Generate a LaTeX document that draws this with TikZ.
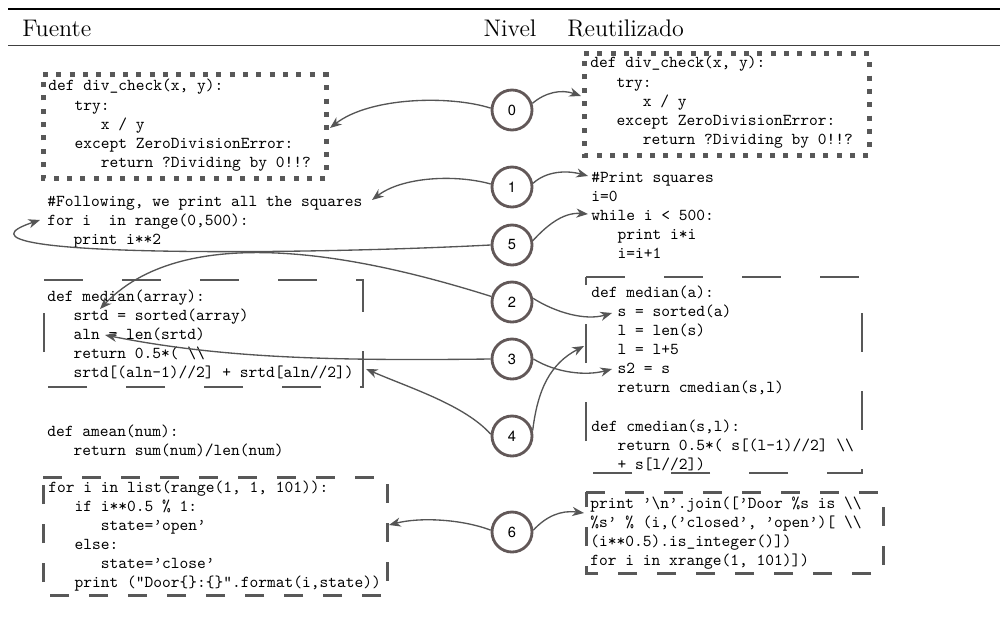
\documentclass[tikz,border=0pt]{standalone}
\usepackage{fontspec}
\newfontfamily\numfont{TeX Gyre Heros}
\usetikzlibrary{arrows.meta}

\definecolor{boxgray}{RGB}{88,88,88}
\definecolor{ringgray}{RGB}{98,88,88}
\definecolor{linkgray}{RGB}{85,85,85}

\newcommand\codefont{\fontsize{10}{11.5}\selectfont\ttfamily}
\newcommand\ti{\hspace*{15.75pt}}
\newcommand\bsl{\textbackslash}
\newcommand\cb[1]{\begin{tabular}[t]{@{}l@{}}#1\end{tabular}}

\begin{document}
\begin{tikzpicture}[x=0.6pt,y=-0.6pt,
  code/.style={anchor=base west, inner sep=0pt, font=\codefont},
  head/.style={inner sep=0pt, font=\fontsize{14.4}{17}\selectfont},
  ring/.style={circle, draw=ringgray, line width=1.7pt, minimum size=24pt,
    inner sep=0pt, font=\numfont\fontsize{8.8}{8.8}\selectfont},
  dotbox/.style={draw=boxgray, line width=3pt, dash pattern=on 3pt off 5pt},
  longdash/.style={draw=boxgray, line width=1.7pt, dash pattern=on 23.4pt off 23.4pt},
  shortdash/.style={draw=boxgray, line width=1.8pt, dash pattern=on 11.4pt off 12pt},
  link/.style={draw=linkgray, line width=0.8pt,
    -{Stealth[length=7pt,width=5.5pt,inset=2.2pt]}}]
\useasboundingbox (0,0) rectangle (1000,617);

% table header
\draw[line width=0.8pt] (8,9) -- (1000,9);
\draw[line width=0.6pt, black!75] (8,46) -- (1000,46);
\node[head, anchor=base west] (hF) at (22,37) {Fuente};
\node[head, anchor=base] (hN) at (510,37) {Nivel};
\node[head, anchor=base west] (hR) at (567,37) {Reutilizado};

% code frames
\draw[dotbox] (43,75) -- (326,75) -- (326,178) -- (43,178) -- cycle;
\draw[dotbox] (584,54) -- (869,54) -- (869,155) -- (584,155) -- cycle;
\draw[longdash] (44,280) -- (363,280) -- (363,387) -- (44,387) -- cycle;
\draw[longdash] (586,277) -- (862,277) -- (862,473) -- (586,473) -- cycle;
\draw[shortdash] (43,477) -- (387,477) -- (387,595) -- (43,595) -- cycle;
\draw[shortdash] (586,492) -- (883,492) -- (883,573) -- (586,573) -- cycle;

% source code (left)
\node[code] (srcDiv) at (48,91) {\cb{def div\_check(x, y):\\ \ti try:\\ \ti\ti x / y\\
  \ti except ZeroDivisionError:\\ \ti\ti return ?Dividing by 0!!?}};
\node[code] (srcSq) at (47,206) {\cb{\#Following, we print all the squares\\
  for i\ \ in range(0,500):\\ \ti print i**2}};
\node[code] (srcMed) at (47,301) {\cb{def median(array):\\ \ti srtd = sorted(array)\\
  \ti aln = len(srtd)\\ \ti return 0.5*( \bsl\bsl\\ \ti srtd[(aln-1)//2] + srtd[aln//2])}};
\node[code] (srcMean) at (47,436) {\cb{def amean(num):\\ \ti return sum(num)/len(num)}};
\node[code] (srcDoor) at (48,492) {\cb{for i in list(range(1, 1, 101)):\\
  \ti if i**0.5 \% 1:\\ \ti\ti state=’open’\\ \ti else:\\ \ti\ti state=’close’\\
  \ti print ("Door\{\}:\{\}".format(i,state))}};

% reused code (right)
\node[code] (reDiv) at (590,68) {\cb{def div\_check(x, y):\\ \ti try:\\ \ti\ti x / y\\
  \ti except ZeroDivisionError:\\ \ti\ti return ?Dividing by 0!!?}};
\node[code] (reSq) at (591,182) {\cb{\#Print squares\\ i=0\\ while i < 500:\\
  \ti print i*i\\ \ti i=i+1}};
\node[code] (reMed) at (591,297) {\cb{def median(a):\\ \ti s = sorted(a)\\ \ti l = len(s)\\
  \ti l = l+5\\ \ti s2 = s\\ \ti return cmedian(s,l)\\ \\ def cmedian(s,l):\\
  \ti return 0.5*( s[(l-1)//2] \bsl\bsl\\ \ti + s[l//2])}};
\node[code] (reDoor) at (590,508) {\cb{print ’\bsl n’.join([’Door \%s is \bsl\bsl\\
  \%s’ \% (i,(’closed’, ’open’)[ \bsl\bsl\\ (i**0.5).is\_integer()])\\
  for i in xrange(1, 101)])}};

% level markers
\node[ring] (c0) at (512,110) {0};
\node[ring] (c1) at (512,187) {1};
\node[ring] (c5) at (512,245) {5};
\node[ring] (c2) at (512,302) {2};
\node[ring] (c3) at (512,359) {3};
\node[ring] (c4) at (512,436) {4};
\node[ring] (c6) at (512,532) {6};

% arrow targets
\coordinate (tDivL) at (330,128);
\coordinate (tDivR) at (581,96);
\coordinate (tSqL) at (372,200);
\coordinate (tSqR) at (588,176);
\coordinate (tForL) at (40,220);
\coordinate (tWhileR) at (588,214);
\coordinate (tSrtdL) at (100,309);
\coordinate (tSR) at (612,313);
\coordinate (tAlnL) at (105,335);
\coordinate (tS2R) at (612,369);
\coordinate (tMedL) at (366,369);
\coordinate (tMedR) at (584,346);
\coordinate (tDoorL) at (389,525);
\coordinate (tJoinR) at (584,513);

% links
\draw[link] (c0.175) .. controls +(-41,-13) and +(40,-31) .. (tDivL);
\draw[link] (c0.18) .. controls +(13,-11) and +(-20,-7) .. (tDivR);
\draw[link] (c1.172) .. controls +(-36,-10) and +(30,-23) .. (tSqL);
\draw[link] (c1.10) .. controls +(13,-12) and +(-22,-6) .. (tSqR);
\draw[link] (c5.180) .. controls +(-191,10) and +(-115,38) .. (tForL);
\draw[link] (c5.12) .. controls +(12,-13) and +(-26,-2) .. (tWhileR);
\draw[link] (c2.165) .. controls +(-111,-35) and +(90,-94) .. (tSrtdL);
\draw[link] (c2.10) .. controls +(22,14) and +(-27,8) .. (tSR);
\draw[link] (c3.180) .. controls +(-161,2) and +(115,23) .. (tAlnL);
\draw[link] (c3.0) .. controls +(23,14) and +(-26,7) .. (tS2R);
\draw[link] (c4.175) .. controls +(-26,-29) and +(44,19) .. (tMedL);
\draw[link] (c4.15) .. controls +(5,-41) and +(-34,18) .. (tMedR);
\draw[link] (c6.175) .. controls +(-29,-11) and +(31,-8) .. (tDoorL);
\draw[link] (c6.5) .. controls +(13,-14) and +(-23,-3) .. (tJoinR);
\end{tikzpicture}
\end{document}
